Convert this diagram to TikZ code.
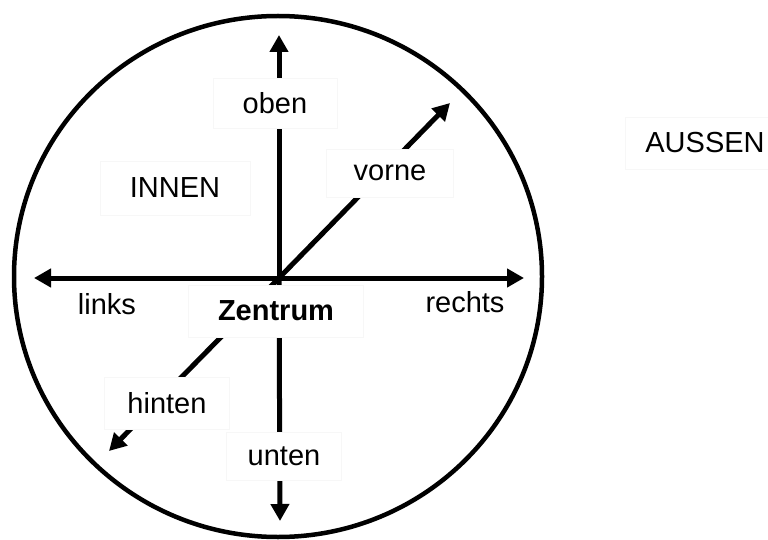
\documentclass[tikz,border=0pt]{standalone}
\usepackage{fontspec}
\setmainfont{Liberation Sans}
\usetikzlibrary{arrows.meta,shapes.geometric}
\begin{document}
\begin{tikzpicture}[x=1pt,y=-1pt,
  axis/.style={line width=5pt,-{Triangle[length=17pt,width=18pt]}},
  lbl/.style={font=\fontsize{29}{33}\selectfont, inner sep=0pt},
  lblbox/.style={lbl, fill=white, draw=black!3, line width=0.8pt, minimum height=50pt}
]
\useasboundingbox (0,0) rectangle (768,540);
\node[draw, line width=4.5pt, ellipse, minimum width=528pt, minimum height=521pt, inner sep=0pt] (circ) at (278,276.5) {};
\coordinate (C) at (279,278);
\coordinate (tUp) at (279,35);
\coordinate (tDown) at (280,521);
\coordinate (tLeft) at (34,278);
\coordinate (tRight) at (524,278);
\coordinate (tFront) at (450,103);
\coordinate (tBack) at (109,451);
\draw[axis] (C) -- (tUp);
\draw[axis] (C) -- (tDown);
\draw[axis] (C) -- (tLeft);
\draw[axis] (C) -- (tRight);
\draw[axis] (C) -- (tFront);
\draw[axis] (C) -- (tBack);
\node[lblbox, minimum width=124pt] (oben) at (275,103) {oben};
\node[lblbox, minimum width=127pt, minimum height=48pt] (vorne) at (390,173) {vorne};
\node[lblbox, minimum width=150pt, minimum height=54pt] (innen) at (175,188) {INNEN};
\node[lblbox, minimum width=175pt, minimum height=52pt, font=\fontsize{29}{33}\selectfont\bfseries] (zentrum) at (276,311) {Zentrum};
\node[lblbox, minimum width=125pt, minimum height=52pt] (hinten) at (167,403) {hinten};
\node[lblbox, minimum width=115pt, minimum height=48pt] (unten) at (284,456) {unten};
\node[lblbox, minimum width=160pt, minimum height=52pt] (aussen) at (705,143) {AUSSEN};
\node[lbl] (links) at (107,304) {links};
\node[lbl] (rechts) at (465,302) {rechts};
\end{tikzpicture}
\end{document}
